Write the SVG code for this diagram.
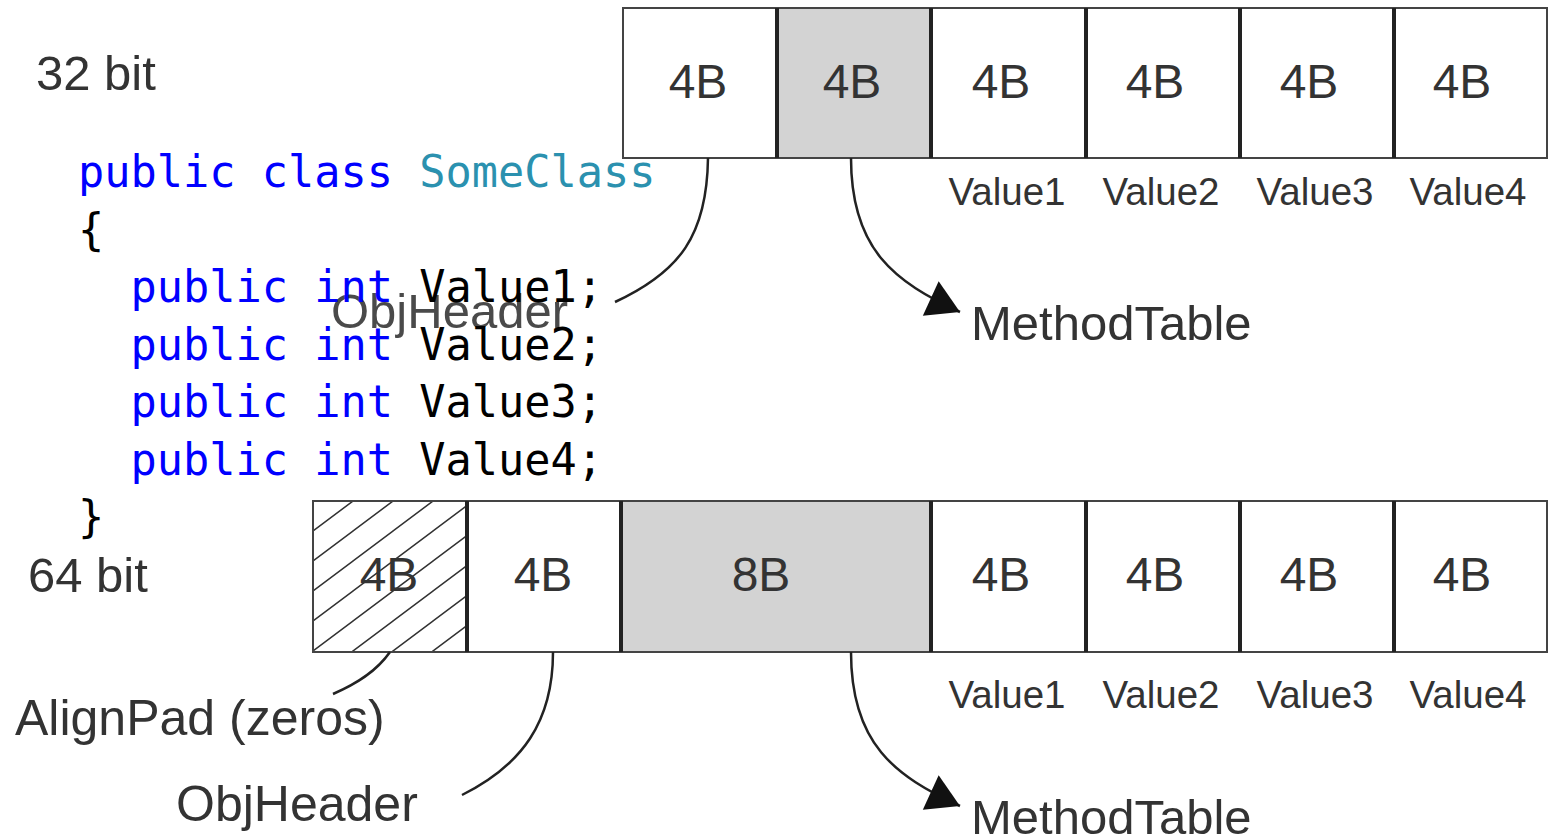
<svg xmlns="http://www.w3.org/2000/svg" width="1557" height="837" viewBox="0 0 1557 837">
<style>
.lbl{font-family:"Liberation Sans",Arial,sans-serif;fill:#333}
.cell{font-size:48px;text-anchor:middle}
.val{font-size:38.5px;text-anchor:middle}
.big{font-size:50px}
.box{fill:#fff;stroke:#444;stroke-width:2}
.div{stroke:#222;stroke-width:4}
.conn{fill:none;stroke:#222;stroke-width:2.5}
.code{font-family:"DejaVu Sans Mono","Liberation Mono",monospace;font-size:43.6px;fill:#000}
.kw{fill:#0000ff}
.ty{fill:#2b91af}
</style>
<defs>
<pattern id="hatch" patternUnits="userSpaceOnUse" x="313" y="501" width="40" height="30">
<path d="M0,30 L40,0 M-10,7.5 L10,-7.5 M30,37.5 L50,22.5" stroke="#333" stroke-width="1.5" fill="none"/>
</pattern>
<marker id="arr" markerUnits="userSpaceOnUse" markerWidth="40" markerHeight="40" viewBox="0 -18 30 36" refX="29" refY="0" orient="auto">
<path d="M0,-17 L29,0 L0,17 Z" fill="#111"/>
</marker>
</defs>
<rect width="1557" height="837" fill="#fff"/>

<g id="label-32bit"><text class="lbl" x="36" y="90" style="font-size:49px">32 bit</text></g>
<g id="label-64bit"><text class="lbl" x="28" y="592" style="font-size:49px">64 bit</text></g>

<g id="row32">
<rect class="box" x="623" y="8" width="924" height="150"/>
<rect x="777" y="9" width="154" height="148" fill="#d3d3d3"/>
<line class="div" x1="777" y1="8" x2="777" y2="158"/>
<line class="div" x1="931" y1="8" x2="931" y2="158"/>
<line class="div" x1="1086" y1="8" x2="1086" y2="158"/>
<line class="div" x1="1240" y1="8" x2="1240" y2="158"/>
<line class="div" x1="1394" y1="8" x2="1394" y2="158"/>
<text class="lbl cell" x="698" y="98">4B</text>
<text class="lbl cell" x="852" y="98">4B</text>
<text class="lbl cell" x="1001" y="98">4B</text>
<text class="lbl cell" x="1155" y="98">4B</text>
<text class="lbl cell" x="1309" y="98">4B</text>
<text class="lbl cell" x="1462" y="98">4B</text>
<text class="lbl val" x="1007" y="205">Value1</text>
<text class="lbl val" x="1161" y="205">Value2</text>
<text class="lbl val" x="1315" y="205">Value3</text>
<text class="lbl val" x="1468" y="205">Value4</text>
</g>

<g id="row64">
<rect class="box" x="313" y="501" width="1234" height="151"/>
<rect x="314" y="502" width="153" height="149" fill="url(#hatch)"/>
<rect x="621" y="502" width="310" height="149" fill="#d3d3d3"/>
<line class="div" x1="467" y1="501" x2="467" y2="652"/>
<line class="div" x1="621" y1="501" x2="621" y2="652"/>
<line class="div" x1="931" y1="501" x2="931" y2="652"/>
<line class="div" x1="1086" y1="501" x2="1086" y2="652"/>
<line class="div" x1="1240" y1="501" x2="1240" y2="652"/>
<line class="div" x1="1394" y1="501" x2="1394" y2="652"/>
<text class="lbl cell" x="389" y="591">4B</text>
<text class="lbl cell" x="543" y="591">4B</text>
<text class="lbl cell" x="761" y="591">8B</text>
<text class="lbl cell" x="1001" y="591">4B</text>
<text class="lbl cell" x="1155" y="591">4B</text>
<text class="lbl cell" x="1309" y="591">4B</text>
<text class="lbl cell" x="1462" y="591">4B</text>
<text class="lbl val" x="1007" y="708">Value1</text>
<text class="lbl val" x="1161" y="708">Value2</text>
<text class="lbl val" x="1315" y="708">Value3</text>
<text class="lbl val" x="1468" y="708">Value4</text>
</g>

<g id="connectors">
<path class="conn" d="M708,158 C707,235 680,272 615,302"/>
<path class="conn" d="M851,158 C851,250 895,282 960,312" marker-end="url(#arr)"/>
<path class="conn" d="M390,652 C376,672 356,684 333,694"/>
<path class="conn" d="M553,652 C553,722 522,765 462,795"/>
<path class="conn" d="M851,652 C851,744 895,776 960,806" marker-end="url(#arr)"/>
</g>

<g id="label-objheader-32"><text class="lbl" x="331" y="328" style="font-size:49px;fill:#4a4a4a">ObjHeader</text></g>
<g id="label-methodtable-32"><text class="lbl" x="971" y="340" style="font-size:49px">MethodTable</text></g>
<g id="label-alignpad"><text class="lbl big" x="15" y="735">AlignPad (zeros)</text></g>
<g id="label-objheader-64"><text class="lbl big" x="176" y="821">ObjHeader</text></g>
<g id="label-methodtable-64"><text class="lbl" x="971" y="834" style="font-size:49px">MethodTable</text></g>

<g id="code" class="code">
<text x="78" y="187" xml:space="preserve"><tspan class="kw">public class</tspan> <tspan class="ty">SomeClass</tspan></text>
<text x="78" y="244.5">{</text>
<text x="78" y="302" xml:space="preserve">  <tspan class="kw">public int</tspan> Value1;</text>
<text x="78" y="359.5" xml:space="preserve">  <tspan class="kw">public int</tspan> Value2;</text>
<text x="78" y="417" xml:space="preserve">  <tspan class="kw">public int</tspan> Value3;</text>
<text x="78" y="474.5" xml:space="preserve">  <tspan class="kw">public int</tspan> Value4;</text>
<text x="78" y="532">}</text>
</g>
</svg>
